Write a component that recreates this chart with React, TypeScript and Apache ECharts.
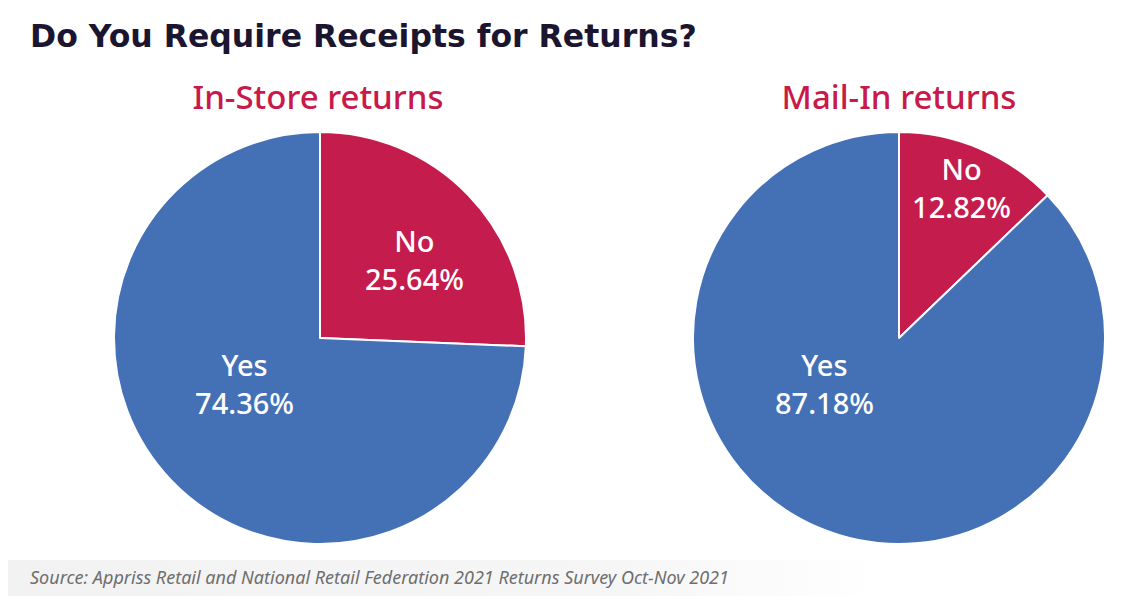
import React, { useEffect, useRef } from "react";
import * as echarts from "echarts";

const title = "Do You Require Receipts for Returns?";
const source = "Source: Appriss Retail and National Retail Federation 2021 Returns Survey Oct-Nov 2021";
const chartTitles = ["In-Store returns", "Mail-In returns"];
const categories = ["No", "Yes"];
const inStoreValues = [25.64, 74.36];
const mailInValues = [12.82, 87.18];

const BLUE = "#4470b6";
const RED = "#c41c4c";
const FONT = "'Noto Sans', Lato, sans-serif";
const WIDE = "'DejaVu Sans', 'Noto Sans', sans-serif";

export default function App() {
  const ref = useRef<HTMLDivElement>(null);
  useEffect(() => {
    document.body.style.margin = "0";
    const chart = echarts.init(ref.current!, null, { renderer: "svg" });
    const colors = [RED, BLUE];
    const mk = (values: number[], center: [number, number], offsets: number[][]) => ({
      type: "pie",
      center,
      radius: 206,
      startAngle: 90,
      clockwise: true,
      silent: true,
      itemStyle: { borderColor: "#ffffff", borderWidth: 2 },
      label: {
        show: true,
        position: "inside",
        color: "#ffffff",
        fontFamily: FONT,
        fontSize: 29,
        fontWeight: 500,
        lineHeight: 38,
        formatter: (p: any) => `${p.name}\n${p.value.toFixed(2)}%`,
      },
      labelLine: { show: false },
      data: categories.map((c, i) => ({
        name: c,
        value: values[i],
        itemStyle: { color: colors[i] },
        label: { offset: offsets[i] },
      })),
    });
    chart.setOption({
      animation: false,
      backgroundColor: "#ffffff",
      graphic: [
        {
          type: "rect",
          shape: { x: 8, y: 560, width: 870, height: 36 },
          style: {
            fill: new echarts.graphic.LinearGradient(0, 0, 1, 0, [
              { offset: 0, color: "#f2f2f2" },
              { offset: 0.7, color: "#f6f6f6" },
              { offset: 1, color: "#ffffff" },
            ]),
          },
          z: 0,
        },
        {
          type: "text",
          left: 30,
          top: 20,
          style: {
            text: title,
            fill: "#1b1530",
            font: `bold 31.5px ${WIDE}`,
          },
        },
        {
          type: "text",
          style: {
            x: 318,
            y: 96,
            text: chartTitles[0],
            fill: "#c8194a",
            font: `500 33px ${FONT}`,
            textAlign: "center",
            textVerticalAlign: "middle",
          },
        },
        {
          type: "text",
          style: {
            x: 899,
            y: 96,
            text: chartTitles[1],
            fill: "#c8194a",
            font: `500 33px ${FONT}`,
            textAlign: "center",
            textVerticalAlign: "middle",
          },
        },
        {
          type: "text",
          left: 30,
          top: 568,
          style: {
            text: source,
            fill: "#6e6e6e",
            font: `italic 18px ${FONT}`,
          },
        },
      ],
      series: [
        mk(inStoreValues, [320, 338], [[18, -5], [1, -28]]),
        mk(mailInValues, [899, 338], [[21, -53], [-33, -52]]),
      ],
    });
    return () => chart.dispose();
  }, []);
  return <div ref={ref} style={{ width: 1131, height: 604 }} />;
}
